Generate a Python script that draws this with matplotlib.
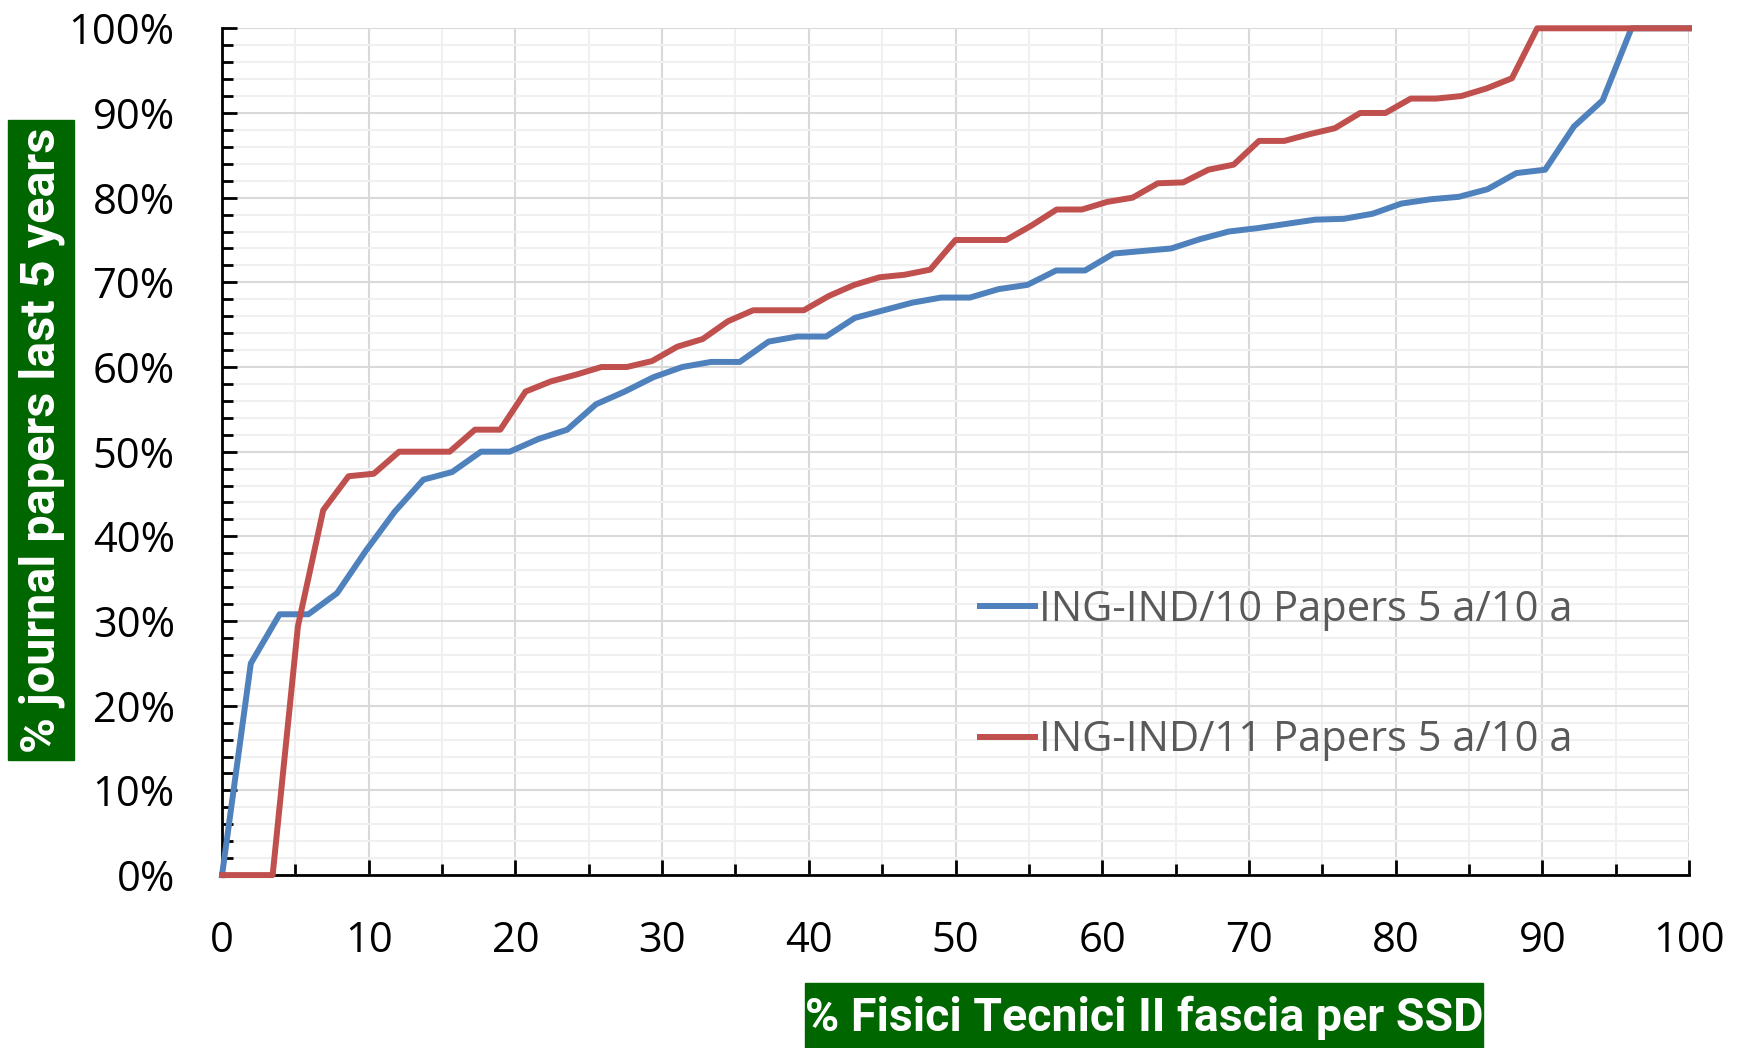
import matplotlib
matplotlib.use("Agg")
import matplotlib.pyplot as plt
from matplotlib.patches import Rectangle
from matplotlib.ticker import MultipleLocator, FuncFormatter
import numpy as np

# Values (percent of journal papers, last 5 years)
blue_label = "ING-IND/10 Papers 5 a/10 a"
blue_vals = [0, 25.0, 30.8, 30.8, 33.3, 38.3, 42.9, 46.7, 47.6, 50.0,
             50.0, 51.5, 52.6, 55.6, 57.1, 58.8, 60.0, 60.6, 60.6, 63.0,
             63.6, 63.6, 65.8, 66.7, 67.6, 68.2, 68.2, 69.2, 69.7, 71.4,
             71.4, 73.4, 73.7, 74.0, 75.1, 76.0, 76.4, 76.9, 77.4, 77.5,
             78.1, 79.3, 79.8, 80.1, 81.0, 82.9, 83.3, 88.4, 91.5, 100.0,
             100.0, 100.0]

red_label = "ING-IND/11 Papers 5 a/10 a"
red_vals = [0, 0, 0, 29.4, 43.1, 47.1, 47.4, 50.0, 50.0, 50.0,
            52.6, 52.6, 57.1, 58.3, 59.1, 60.0, 60.0, 60.7, 62.4, 63.3,
            65.4, 66.7, 66.7, 66.7, 68.4, 69.7, 70.6, 70.9, 71.5, 75.0,
            75.0, 75.0, 76.7, 78.6, 78.6, 79.5, 80.0, 81.7, 81.8, 83.3,
            83.9, 86.7, 86.7, 87.5, 88.2, 90.0, 90.0, 91.7, 91.7, 92.0,
            92.9, 94.1, 100.0, 100.0, 100.0, 100.0, 100.0, 100.0, 100.0]

# x = percentile of people in each SSD
blue_x = np.linspace(0, 100, len(blue_vals))
red_x = np.linspace(0, 100, len(red_vals))

xlabel = "% Fisici Tecnici II fascia per SSD"
ylabel = "% journal papers last 5 years"

plt.rcParams['font.family'] = ['Open Sans', 'DejaVu Sans']

fig = plt.figure(figsize=(17.43, 10.48), dpi=100)
ax = fig.add_axes([0.1274, 0.165, 0.8416, 0.808])

ax.plot(blue_x, blue_vals, color='#4F81BD', lw=4.3, label=blue_label,
        clip_on=False, zorder=3)
ax.plot(red_x, red_vals, color='#C0504D', lw=4.3, label=red_label,
        clip_on=False, zorder=3)

ax.set_xlim(0, 100)
ax.set_ylim(0, 100)

ax.xaxis.set_major_locator(MultipleLocator(10))
ax.xaxis.set_minor_locator(MultipleLocator(5))
ax.yaxis.set_major_locator(MultipleLocator(10))
ax.yaxis.set_minor_locator(MultipleLocator(2))
ax.yaxis.set_major_formatter(FuncFormatter(lambda v, p: f"{v:.0f}%"))

ax.grid(which='major', color='#d9d9d9', lw=1.5)
ax.grid(which='minor', color='#f0f0f0', lw=1.5)
ax.set_axisbelow(True)

for s in ['top', 'right']:
    ax.spines[s].set_visible(False)
for s in ['left', 'bottom']:
    ax.spines[s].set_linewidth(2)
    ax.spines[s].set_color('black')

ax.tick_params(which='major', direction='in', length=11, width=2,
               labelsize=30, pad=34)
ax.tick_params(which='minor', direction='in', length=8, width=2)
ax.tick_params(axis='x', which='major', pad=32)

leg = ax.legend(loc='center left', bbox_to_anchor=(0.517, 0.236),
                frameon=False, fontsize=30, handlelength=1.3,
                handletextpad=0.1, labelspacing=2.12, borderpad=0,
                borderaxespad=0)
for t in leg.get_texts():
    t.set_color('#595959')

# green label boxes
green = '#006600'
fig.patches.append(Rectangle((0.0046, 0.2748), 0.0379, 0.6107,
                             transform=fig.transFigure, color=green))
fig.text(0.0238, 0.580, ylabel, rotation=90, color='white',
         ha='center', va='center', fontsize=35, fontweight='bold',
         family=['Roboto', 'DejaVu Sans'])

fig.patches.append(Rectangle((0.4618, 0.0), 0.389, 0.062,
                             transform=fig.transFigure, color=green))
fig.text(0.6563, 0.029, xlabel, color='white', ha='center', va='center',
         fontsize=33.5, fontweight='bold',
         family=['Roboto', 'DejaVu Sans'])

fig.savefig('out.png', dpi=100)
